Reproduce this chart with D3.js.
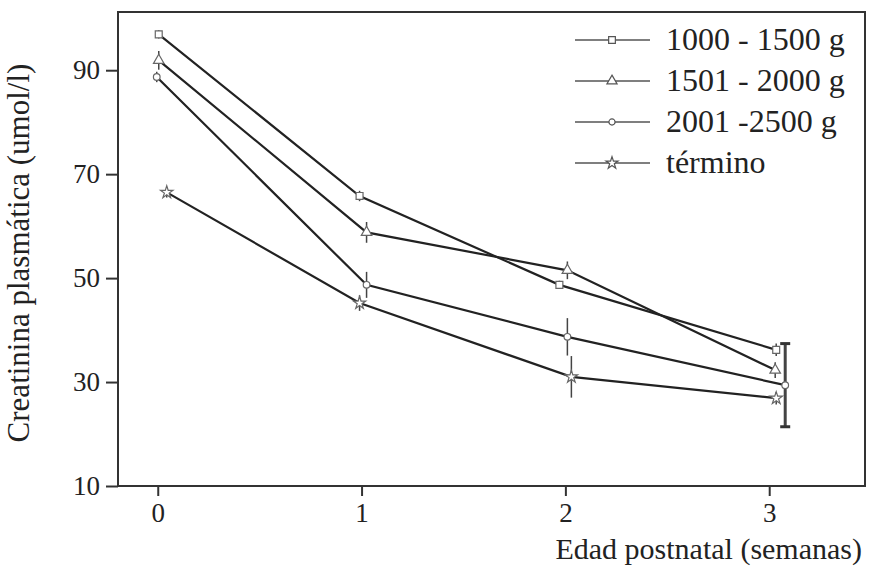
<!DOCTYPE html>
<html>
<head>
<meta charset="utf-8">
<script src="https://cdn.jsdelivr.net/npm/d3@7"></script>
<style>
  body { margin: 0; background: #fff; }
  text { font-family: "Liberation Serif", "Times New Roman", serif; fill: #222; }
</style>
</head>
<body>
<div id="graph"></div>
<script>
// weeks and series (creatinina plasmática, umol/l)
const weeks = [0, 1, 2, 3];
const seriesNames = ["1000 - 1500 g", "1501 - 2000 g", "2001 -2500 g", "término"];
const grp1000 = [96.9, 65.8, 48.7, 36.2];
const grp1501 = [91.9, 58.8, 51.5, 32.3];
const grp2001 = [88.7, 48.7, 38.7, 29.4];
const termino = [66.5, 45.2, 31.0, 26.9];
// standard errors
const err1000 = [0.8, 1.0, 0.8, 1.2];
const err1501 = [1.8, 2.0, 1.7, 1.5];
const err2001 = [1.0, 2.5, 3.6, 8.0];
const errTerm = [1.0, 1.5, 4.0, 1.2];
const yTicks = [10, 30, 50, 70, 90];

const allSeries = [grp1000, grp1501, grp2001, termino];
const allErr = [err1000, err1501, err2001, errTerm];
const symbols = [d3.symbolSquare, d3.symbolTriangle, d3.symbolCircle, d3.symbolStar];
// small horizontal shifts (px) so markers don't overlap
const shifts = [[1, -2, -6, 7], [1, 5, 2, 6], [-1, 5, 2, 16], [9, -2, 6, 7]];

const margin = { top: 12, right: 8, bottom: 81, left: 118 };
const width = 873 - margin.left - margin.right;
const height = 567 - margin.top - margin.bottom;

function setupSVG() {
  return d3.select("#graph").append("svg")
    .attr("width", 873).attr("height", 567)
    .append("g")
    .attr("transform", "translate(" + margin.left + "," + margin.top + ")");
}

const svg = setupSVG();
const x = d3.scaleLinear().domain([-0.195, 3.47]).range([0, width]);
const y = d3.scaleLinear().domain([10, 101.2]).range([height, 0]);

// frame
svg.append("rect").attr("x", 0).attr("y", 0).attr("width", width).attr("height", height)
  .attr("fill", "none").attr("stroke", "#333").attr("stroke-width", 2);

// axes
const yAxis = svg.append("g").call(d3.axisLeft(y).tickValues(yTicks).tickSize(12).tickPadding(6));
const xAxis = svg.append("g").attr("transform", "translate(0," + height + ")")
  .call(d3.axisBottom(x).tickValues(weeks).tickFormat(d3.format("d")).tickSize(10).tickPadding(7));
[yAxis, xAxis].forEach(function (a) {
  a.select(".domain").remove();
  a.selectAll("line").attr("stroke", "#333").attr("stroke-width", 2);
  a.selectAll("text").style("font-family", "Liberation Serif, serif").style("font-size", "27px").attr("fill", "#222");
});

// lines
const line = d3.line()
  .x(function (d) { return x(d.w) + d.dx; })
  .y(function (d) { return y(d.v); });

allSeries.forEach(function (vals, s) {
  const pts = weeks.map(function (w, i) { return { w: w, v: vals[i], e: allErr[s][i], dx: shifts[s][i] }; });
  const g = svg.append("g");
  g.append("path").datum(pts).attr("d", line)
    .attr("fill", "none").attr("stroke", "#222").attr("stroke-width", 2.2);
  // error bars
  g.selectAll("line.err").data(pts).enter().append("line")
    .attr("x1", function (d) { return x(d.w) + d.dx; })
    .attr("x2", function (d) { return x(d.w) + d.dx; })
    .attr("y1", function (d) { return y(d.v - d.e); })
    .attr("y2", function (d) { return y(d.v + d.e); })
    .attr("stroke", "#444").attr("stroke-width", function (d) { return d.e > 5 ? 3 : 1.5; });
  g.selectAll("line.cap").data(pts.filter(function (d) { return d.e > 5; })).enter().append("g")
    .each(function (d) {
      [d.v - d.e, d.v + d.e].forEach(function (v) {
        d3.select(this).append("line")
          .attr("x1", x(d.w) + d.dx - 5).attr("x2", x(d.w) + d.dx + 5)
          .attr("y1", y(v)).attr("y2", y(v))
          .attr("stroke", "#333").attr("stroke-width", 3);
      }, this);
    });
  // markers
  g.selectAll("path.mk").data(pts).enter().append("path")
    .attr("d", d3.symbol().type(symbols[s]).size(s === 2 ? 35 : 48))
    .attr("transform", function (d) { return "translate(" + (x(d.w) + d.dx) + "," + y(d.v) + ")"; })
    .attr("fill", "#fff").attr("stroke", "#666").attr("stroke-width", 1.2);
});

// axis labels
svg.append("text")
  .attr("transform", "translate(" + (-89) + "," + (height / 2 + 4) + ") rotate(-90)")
  .attr("text-anchor", "middle").style("font-size", "31px")
  .text("Creatinina plasmática (umol/l)");
svg.append("text")
  .attr("x", width - 3).attr("y", height + 73)
  .attr("text-anchor", "end").style("font-size", "30px")
  .text("Edad postnatal (semanas)");

// legend
function addLegend() {
  const lg = svg.append("g").attr("transform", "translate(" + (575 - margin.left) + "," + (40 - margin.top) + ")");
  seriesNames.forEach(function (name, i) {
    const yy = i * 41;
    lg.append("line").attr("x1", 0).attr("x2", 75).attr("y1", yy).attr("y2", yy)
      .attr("stroke", "#555").attr("stroke-width", 1.5);
    lg.append("path").attr("d", d3.symbol().type(symbols[i]).size(i === 2 ? 30 : 45))
      .attr("transform", "translate(37," + yy + ")")
      .attr("fill", "#fff").attr("stroke", "#555").attr("stroke-width", 1.2);
    lg.append("text").attr("x", 91).attr("y", yy + 10).style("font-size", "32px").text(name);
  });
}
addLegend();
</script>
</body>
</html>
